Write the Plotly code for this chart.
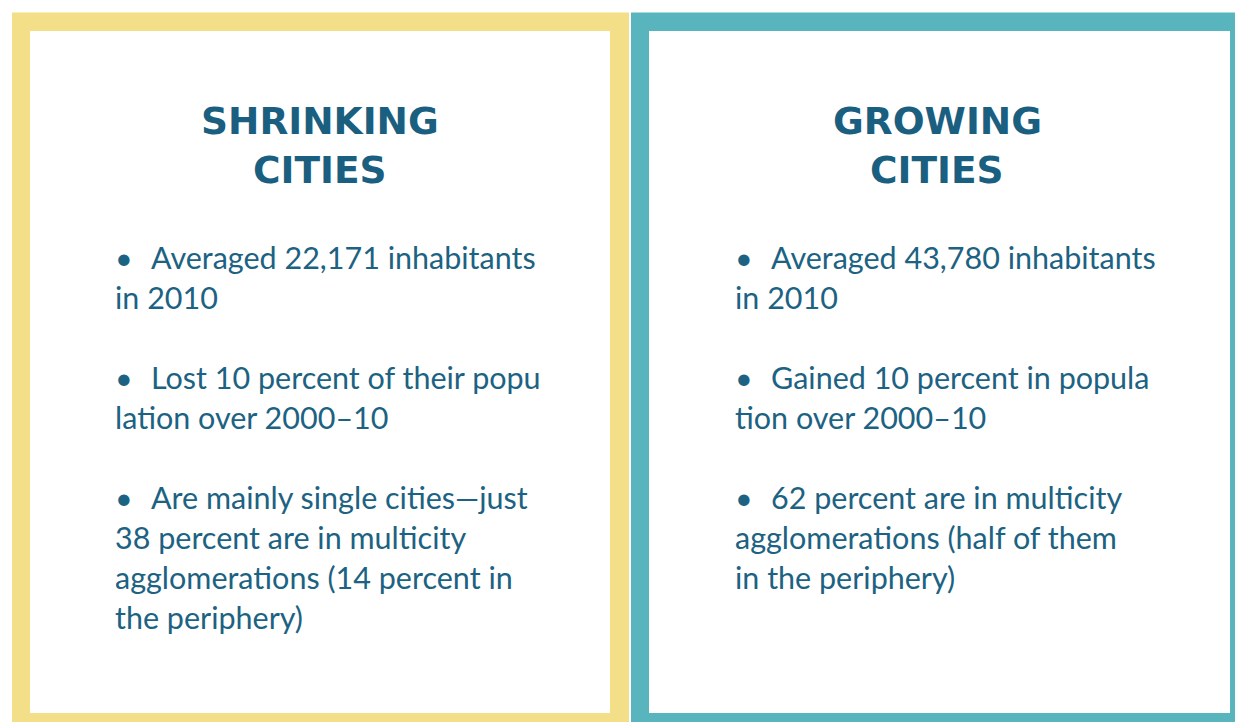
import plotly.graph_objects as go

# ---- content ----
titles = [["SHRINKING", "CITIES"], ["GROWING", "CITIES"]]
bullets_left = [
    ["Averaged 22,171 inhabitants", "in 2010"],
    ["Lost 10 percent of their popu", "lation over 2000–10"],
    ["Are mainly single cities—just", "38 percent are in multicity",
     "agglomerations (14 percent in", "the periphery)"],
]
bullets_right = [
    ["Averaged 43,780 inhabitants", "in 2010"],
    ["Gained 10 percent in popula", "tion over 2000–10"],
    ["62 percent are in multicity", "agglomerations (half of them",
     "in the periphery)"],
]
frame_colors = ["#F2DF87", "#58B5BD"]

W, H = 1235, 722
TEXT = "#1C6282"
TITLE = "#1A5F7F"

fig = go.Figure()
fig.add_trace(go.Scatter(x=[0, W], y=[0, H], mode="markers",
                         marker=dict(opacity=0), hoverinfo="skip", showlegend=False))

shapes = []
# panel geometry (pixels)
panels = [
    dict(outer=(12, 12.5, 629, 730), inner=(30, 31, 610, 713), cx=320, bx=113, tx=149, cont=113),
    dict(outer=(631, 12.5, 1245, 730), inner=(649, 31, 1230, 713), cx=937, bx=733, tx=769, cont=733),
]
for p, col in zip(panels, frame_colors):
    x0, y0, x1, y1 = p["outer"]
    shapes.append(dict(type="rect", xref="x", yref="y", x0=x0, y0=y0, x1=x1, y1=y1,
                       fillcolor=col, line=dict(width=0), layer="below"))
    x0, y0, x1, y1 = p["inner"]
    shapes.append(dict(type="rect", xref="x", yref="y", x0=x0, y0=y0, x1=x1, y1=y1,
                       fillcolor="white", line=dict(width=0), layer="below"))

annotations = []
title_y = [121, 170]
for p, tl in zip(panels, titles):
    for t, y in zip(tl, title_y):
        annotations.append(dict(x=p["cx"], y=y, xref="x", yref="y", text=t, showarrow=False,
                                xanchor="center", yanchor="middle",
                                font=dict(family="DejaVu Sans", size=37.5, color=TITLE, weight="bold")))

group_y = [257, 377, 497]
pitch = 40
for p, groups in zip(panels, [bullets_left, bullets_right]):
    for gy, lines in zip(group_y, groups):
        annotations.append(dict(x=p["bx"], y=gy, xref="x", yref="y", text="•", showarrow=False,
                                xanchor="left", yanchor="middle",
                                font=dict(family="Lato", size=30.5, color=TEXT)))
        for i, line in enumerate(lines):
            annotations.append(dict(x=p["tx"] if i == 0 else p["cont"], y=gy + i * pitch,
                                    xref="x", yref="y", text=line, showarrow=False,
                                    xanchor="left", yanchor="middle",
                                    font=dict(family="Lato", size=30.5, color=TEXT)))

fig.update_layout(
    width=W, height=H, margin=dict(l=0, r=0, t=0, b=0),
    paper_bgcolor="white", plot_bgcolor="white",
    xaxis=dict(range=[0, W], visible=False, fixedrange=True),
    yaxis=dict(range=[H, 0], visible=False, fixedrange=True),
    shapes=shapes, annotations=annotations, showlegend=False,
)
fig.write_html("out.html", config={"displayModeBar": False},
               post_script="document.body.style.margin='0';document.body.style.overflow='hidden';")
